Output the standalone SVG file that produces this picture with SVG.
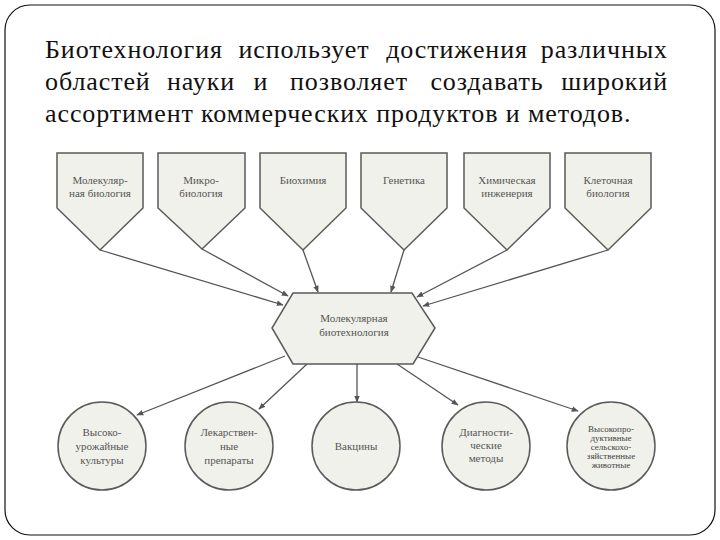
<svg xmlns="http://www.w3.org/2000/svg" width="720" height="540" viewBox="0 0 720 540">
<style>
.title{font-family:'Liberation Serif','Times New Roman','DejaVu Serif',serif;font-size:26px;letter-spacing:0.9px;fill:#111}
.shape{fill:#f1f1eb;stroke:#5a5a5a;stroke-width:1.5}
.lbl{font-family:'Liberation Serif','Times New Roman','DejaVu Serif',serif;font-size:11px;fill:#555;text-anchor:middle}
.lbl2{font-family:'Liberation Serif','Times New Roman','DejaVu Serif',serif;font-size:9px;fill:#444;text-anchor:middle}
.conn line{stroke:#555;stroke-width:1.3;fill:none}
</style>
<defs>
<marker id="ah" viewBox="0 0 10 10" refX="9" refY="5" markerWidth="7" markerHeight="7" orient="auto" markerUnits="userSpaceOnUse">
<path d="M0,1 L10,5 L0,9 z" fill="#555"/>
</marker>
</defs>
<rect x="5" y="5" width="710" height="530" rx="25" ry="25" fill="#fff" stroke="#111" stroke-width="1.2"/>
<g id="title" class="title">
<text y="58"><tspan x="45">Биотехнология</tspan><tspan x="304" text-anchor="middle">использует</tspan><tspan x="457" text-anchor="middle">достижения</tspan><tspan x="668" text-anchor="end">различных</tspan></text>
<text y="90"><tspan x="45">областей</tspan><tspan x="201" text-anchor="middle">науки</tspan><tspan x="261" text-anchor="middle">и</tspan><tspan x="349" text-anchor="middle">позволяет</tspan><tspan x="487" text-anchor="middle">создавать</tspan><tspan x="668" text-anchor="end">широкий</tspan></text>
<text x="45" y="122">ассортимент коммерческих продуктов и методов.</text>
</g>
<g id="connectors" class="conn">
<line x1="100" y1="250" x2="283" y2="305" marker-end="url(#ah)"/>
<line x1="202" y1="249" x2="288" y2="296" marker-end="url(#ah)"/>
<line x1="303" y1="250" x2="318" y2="292" marker-end="url(#ah)"/>
<line x1="404" y1="250" x2="391" y2="292" marker-end="url(#ah)"/>
<line x1="507" y1="250" x2="417" y2="297" marker-end="url(#ah)"/>
<line x1="608" y1="250" x2="423" y2="306" marker-end="url(#ah)"/>
<line x1="285" y1="356" x2="137" y2="415" marker-end="url(#ah)"/>
<line x1="307" y1="364" x2="259" y2="409" marker-end="url(#ah)"/>
<line x1="357" y1="364" x2="357" y2="402" marker-end="url(#ah)"/>
<line x1="397" y1="364" x2="458" y2="405" marker-end="url(#ah)"/>
<line x1="418" y1="357" x2="578" y2="411" marker-end="url(#ah)"/>
</g>
<g id="n1"><polygon class="shape" points="57,153 143,153 143,208 100,250 57,208"/><text class="lbl" x="100" y="184">Молекуляр-</text><text class="lbl" x="100" y="197">ная биология</text></g>
<g id="n2"><polygon class="shape" points="158,153 245,153 245,208 202,249 158,208"/><text class="lbl" x="201" y="184">Микро-</text><text class="lbl" x="201" y="197">биология</text></g>
<g id="n3"><polygon class="shape" points="260,153 346,153 346,208 303,250 260,208"/><text class="lbl" x="303" y="184">Биохимия</text></g>
<g id="n4"><polygon class="shape" points="361,153 447,153 447,208 404,250 361,208"/><text class="lbl" x="404" y="184">Генетика</text></g>
<g id="n5"><polygon class="shape" points="464,153 550,153 550,208 507,250 464,208"/><text class="lbl" x="507" y="184">Химическая</text><text class="lbl" x="507" y="197">инженерия</text></g>
<g id="n6"><polygon class="shape" points="565,153 651,153 651,208 608,250 565,208"/><text class="lbl" x="608" y="184">Клеточная</text><text class="lbl" x="608" y="197">биология</text></g>
<g id="hub"><polygon class="shape" points="293,293 412,293 435,328 413,364 293,364 272,328"/><text class="lbl" x="354" y="322">Молекулярная</text><text class="lbl" x="354" y="336">биотехнология</text></g>
<g id="c1"><circle class="shape" cx="102" cy="446" r="44"/><text class="lbl" x="102" y="436">Высоко-</text><text class="lbl" x="102" y="450">урожайные</text><text class="lbl" x="102" y="464">культуры</text></g>
<g id="c2"><circle class="shape" cx="229" cy="446" r="44"/><text class="lbl" x="229" y="436">Лекарствен-</text><text class="lbl" x="229" y="450">ные</text><text class="lbl" x="229" y="464">препараты</text></g>
<g id="c3"><circle class="shape" cx="356" cy="446" r="44"/><text class="lbl" x="356" y="450">Вакцины</text></g>
<g id="c4"><circle class="shape" cx="486" cy="446" r="44"/><text class="lbl" x="486" y="436">Диагности-</text><text class="lbl" x="486" y="449">ческие</text><text class="lbl" x="486" y="462">методы</text></g>
<g id="c5"><circle class="shape" cx="611" cy="446" r="44"/><text class="lbl2" x="611" y="432">Высокопро-</text><text class="lbl2" x="611" y="441">дуктивные</text><text class="lbl2" x="611" y="450">сельскохо-</text><text class="lbl2" x="611" y="459">зяйственные</text><text class="lbl2" x="611" y="468">животные</text></g>
</svg>
